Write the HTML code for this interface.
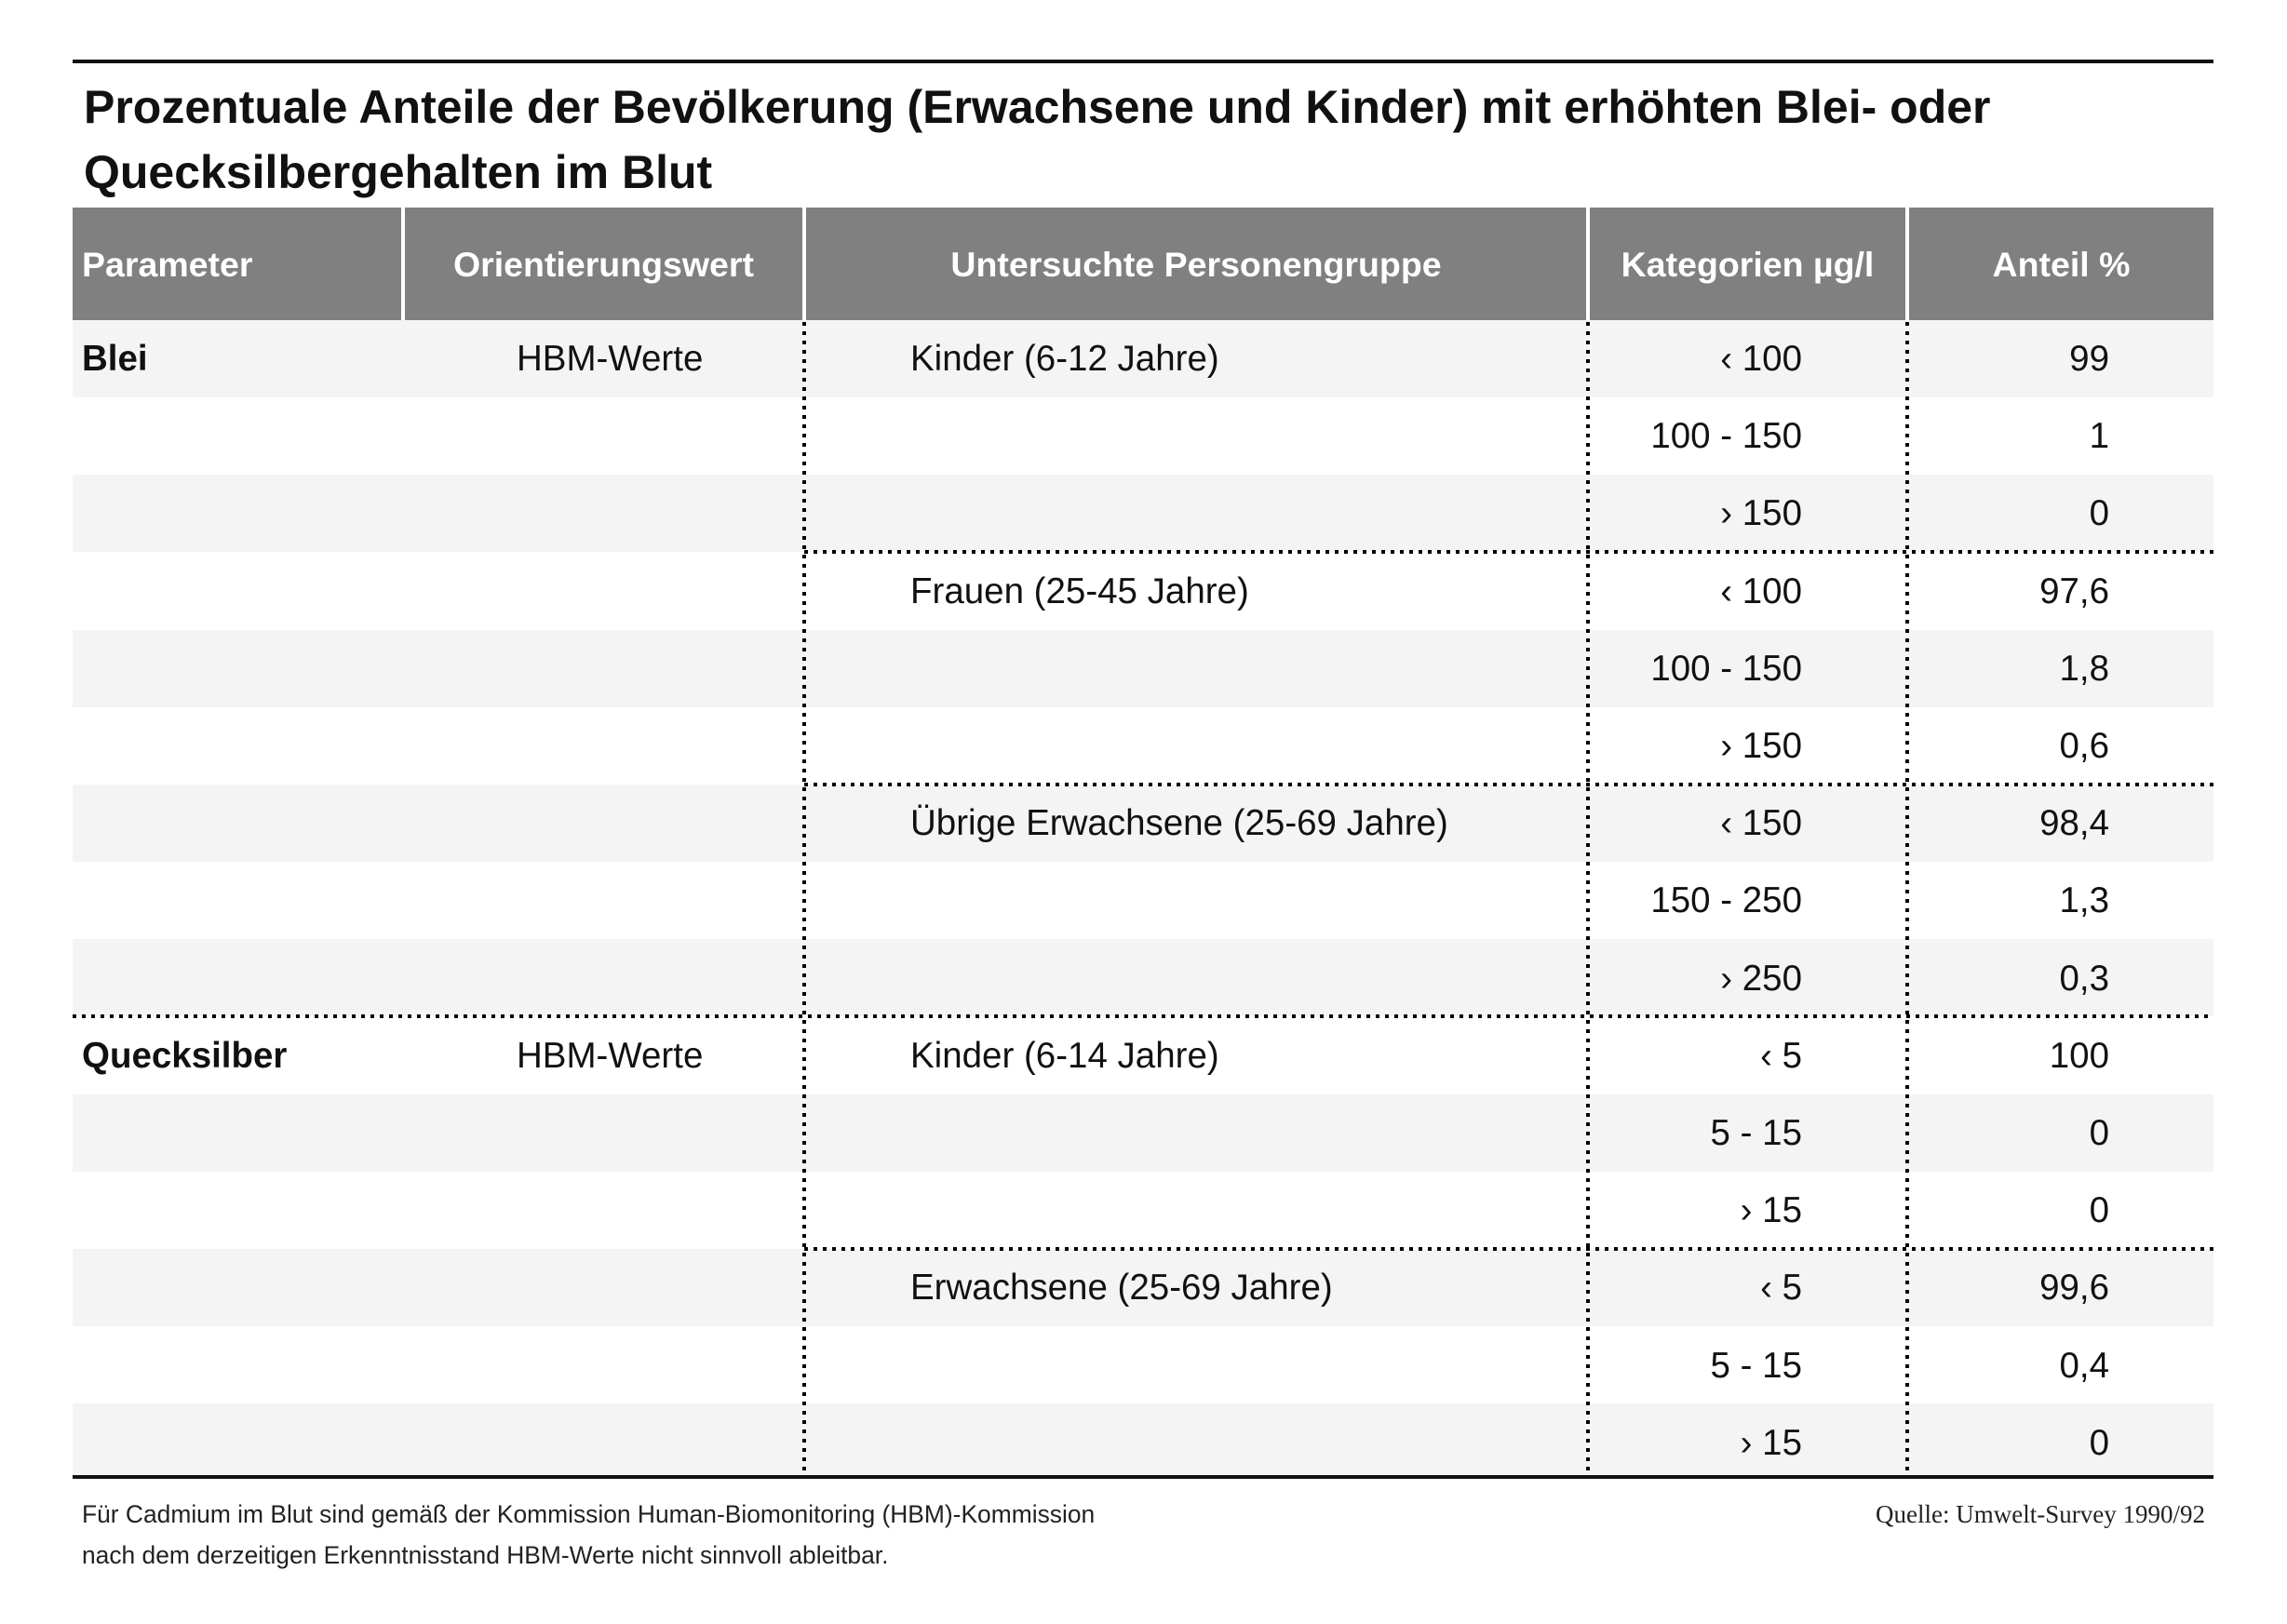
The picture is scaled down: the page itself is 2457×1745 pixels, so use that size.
<!DOCTYPE html>
<html><head><meta charset="utf-8"><style>
body{margin:0;width:2457px;height:1745px;background:#fff;position:relative;overflow:hidden;font-family:"Liberation Sans",sans-serif;color:#111}
.t{position:absolute;white-space:nowrap}
.title{font-weight:bold;font-size:50px;left:90px}
.h{color:#fff;font-weight:bold;font-size:37.5px;top:262px;height:44px;line-height:44px}
.c{font-size:38.5px;line-height:44px}
.r{text-align:right}
.ft{font-size:26.4px;color:#222}
</style></head><body>
<svg width="2457" height="1745" style="position:absolute;left:0;top:0">
<rect x="78" y="64" width="2300" height="4" fill="#111"/>
<rect x="78" y="223" width="2300" height="121" fill="#808080"/>
<rect x="431" y="223" width="4" height="121" fill="#fff"/>
<rect x="862" y="223" width="4" height="121" fill="#fff"/>
<rect x="1704" y="223" width="4" height="121" fill="#fff"/>
<rect x="2047" y="223" width="4" height="121" fill="#fff"/>
<g fill="#f4f4f4">
<rect x="78" y="344" width="2300" height="83"/>
<rect x="78" y="510" width="2300" height="83"/>
<rect x="78" y="677" width="2300" height="83"/>
<rect x="78" y="843" width="2300" height="83"/>
<rect x="78" y="1009" width="2300" height="83"/>
<rect x="78" y="1176" width="2300" height="83"/>
<rect x="78" y="1342" width="2300" height="83"/>
<rect x="78" y="1508" width="2300" height="80"/>
</g>
<g stroke="#000" stroke-width="4" stroke-dasharray="4 6" fill="none">
<line x1="864" y1="346" x2="864" y2="1586"/>
<line x1="1706" y1="346" x2="1706" y2="1586"/>
<line x1="2049" y1="346" x2="2049" y2="1586"/>
<line x1="864" y1="593" x2="2378" y2="593"/>
<line x1="864" y1="843" x2="2378" y2="843"/>
<line x1="78" y1="1092" x2="2378" y2="1092"/>
<line x1="864" y1="1342" x2="2378" y2="1342"/>
</g>
<rect x="78" y="1585" width="2300" height="4" fill="#111"/>
</svg>
<div class="t title" style="top:86px">Prozentuale Anteile der Bevölkerung (Erwachsene und Kinder) mit erhöhten Blei- oder</div>
<div class="t title" style="top:156px">Quecksilbergehalten im Blut</div>
<div class="t h" style="left:88px">Parameter</div>
<div class="t h" style="left:435px;width:427px;text-align:center">Orientierungswert</div>
<div class="t h" style="left:866px;width:838px;text-align:center">Untersuchte Personengruppe</div>
<div class="t h" style="left:1708px;width:339px;text-align:center">Kategorien µg/l</div>
<div class="t h" style="left:2051px;width:327px;text-align:center">Anteil %</div>
<div id="rows"></div>
<script>
var d=[["Blei","HBM-Werte","Kinder (6-12 Jahre)","‹ 100","99"],["","","","100 - 150","1"],["","","","› 150","0"],
["","","Frauen (25-45 Jahre)","‹ 100","97,6"],["","","","100 - 150","1,8"],["","","","› 150","0,6"],
["","","Übrige Erwachsene (25-69 Jahre)","‹ 150","98,4"],["","","","150 - 250","1,3"],["","","","› 250","0,3"],
["Quecksilber","HBM-Werte","Kinder (6-14 Jahre)","‹ 5","100"],["","","","5 - 15","0"],["","","","› 15","0"],
["","","Erwachsene (25-69 Jahre)","‹ 5","99,6"],["","","","5 - 15","0,4"],["","","","› 15","0"]];
var h="";d.forEach(function(r,i){var y=344+i*83.2+20;
if(r[0])h+='<div class="t c" style="left:88px;top:'+y+'px;font-weight:bold">'+r[0]+'</div>';
if(r[1])h+='<div class="t c" style="left:555px;top:'+y+'px">'+r[1]+'</div>';
if(r[2])h+='<div class="t c" style="left:978px;top:'+y+'px">'+r[2]+'</div>';
h+='<div class="t c r" style="left:1700px;width:236px;top:'+y+'px">'+r[3]+'</div>';
h+='<div class="t c r" style="left:2060px;width:206px;top:'+y+'px">'+r[4]+'</div>';});
document.getElementById("rows").innerHTML=h;
</script>
<div class="t ft" style="left:88px;top:1612px">Für Cadmium im Blut sind gemäß der Kommission Human-Biomonitoring (HBM)-Kommission</div>
<div class="t ft" style="left:88px;top:1656px">nach dem derzeitigen Erkenntnisstand HBM-Werte nicht sinnvoll ableitbar.</div>
<div class="t ft" style="right:88px;top:1612px;font-family:'Liberation Serif',serif;font-size:27px">Quelle: Umwelt-Survey 1990/92</div>
</body></html>
